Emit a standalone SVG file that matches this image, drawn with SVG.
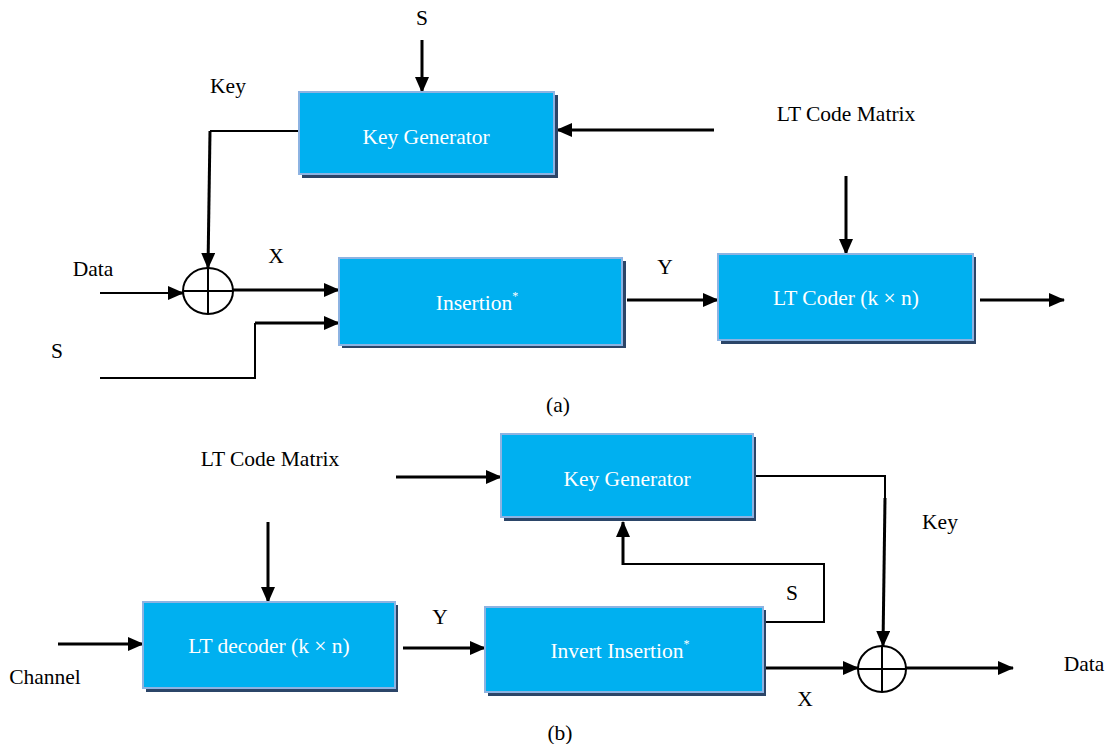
<svg xmlns="http://www.w3.org/2000/svg" width="1106" height="744" viewBox="0 0 1106 744">
<style>
.box{fill:#00B0F0;stroke:#8DB3E2;stroke-width:2}
.sh{fill:#2B4568}
text{font-family:'Liberation Serif','DejaVu Serif',serif;font-size:21.5px}
.bt{fill:#FFFFFF;text-anchor:middle}
.lb{fill:#000000;text-anchor:middle}
.sup{font-size:12px}
.thick{fill:none;stroke:#000;stroke-width:3}
.thin{fill:none;stroke:#000;stroke-width:2}
.xor{fill:#FFFFFF;stroke:#000;stroke-width:2}
</style>
<defs>
<marker id="ah" markerUnits="userSpaceOnUse" markerWidth="16" markerHeight="14" refX="15" refY="7" orient="auto">
<path d="M0,0 L16,7 L0,14 z" fill="#000"/>
</marker>
</defs>
<rect width="1106" height="744" fill="#FFFFFF"/>

<g id="connectors">
<path class="thick" d="M422,40 L422,92" marker-end="url(#ah)"/>
<path class="thin" d="M299,131 L210,131"/>
<path class="thick" d="M210,131 L208,268" marker-end="url(#ah)"/>
<path class="thick" d="M714,130 L557,130" marker-end="url(#ah)"/>
<path class="thin" d="M100,293 L170,293"/>
<path class="thick" d="M168,293 L183,293" marker-end="url(#ah)"/>
<path class="thick" d="M233,290 L339,290" marker-end="url(#ah)"/>
<path class="thin" d="M100,378 L255,378 L255,323"/>
<path class="thick" d="M255,323 L339,323" marker-end="url(#ah)"/>
<path class="thick" d="M627,300 L718,300" marker-end="url(#ah)"/>
<path class="thick" d="M846,176 L846,254" marker-end="url(#ah)"/>
<path class="thick" d="M980,300 L1064,300" marker-end="url(#ah)"/>
<path class="thick" d="M396,477 L501,477" marker-end="url(#ah)"/>
<path class="thin" d="M753,476 L885,476 L885,500"/>
<path class="thick" d="M885,498 L883,646" marker-end="url(#ah)"/>
<path class="thin" d="M763,622 L824,622 L824,564 L623,564"/>
<path class="thick" d="M623,565 L623,522" marker-end="url(#ah)"/>
<path class="thick" d="M766,668 L858,668" marker-end="url(#ah)"/>
<path class="thick" d="M906,668 L1013,668" marker-end="url(#ah)"/>
<path class="thick" d="M58,644 L143,644" marker-end="url(#ah)"/>
<path class="thick" d="M268,522 L268,602" marker-end="url(#ah)"/>
<path class="thick" d="M403,648 L485,648" marker-end="url(#ah)"/>
</g>

<g id="keygen-a">
<rect class="sh" x="302" y="95" width="256" height="83"/>
<rect class="box" x="299" y="92" width="255" height="82"/>
<text class="bt" x="426" y="144">Key Generator</text>
</g>
<g id="insertion">
<rect class="sh" x="342" y="261" width="284" height="87"/>
<rect class="box" x="339" y="258" width="283" height="87"/>
<text class="bt" x="477" y="310">Insertion<tspan class="sup" dy="-10">*</tspan></text>
</g>
<g id="ltcoder">
<rect class="sh" x="721" y="257" width="255" height="87"/>
<rect class="box" x="718" y="254" width="255" height="86"/>
<text class="bt" x="846" y="305">LT Coder (k × n)</text>
</g>
<g id="xor-a">
<ellipse class="xor" cx="208" cy="291" rx="25" ry="23"/>
<path class="thin" d="M183,291 L233,291 M208,268 L208,314"/>
</g>

<g id="keygen-b">
<rect class="sh" x="504" y="437" width="252" height="84"/>
<rect class="box" x="501" y="434" width="252" height="83"/>
<text class="bt" x="627" y="486">Key Generator</text>
</g>
<g id="invert-insertion">
<rect class="sh" x="488" y="610" width="278" height="86"/>
<rect class="box" x="485" y="607" width="278" height="85"/>
<text class="bt" x="620" y="658">Invert Insertion<tspan class="sup" dy="-10">*</tspan></text>
</g>
<g id="ltdecoder">
<rect class="sh" x="146" y="605" width="252" height="87"/>
<rect class="box" x="143" y="602" width="252" height="86"/>
<text class="bt" x="269" y="653">LT decoder (k × n)</text>
</g>
<g id="xor-b">
<ellipse class="xor" cx="882" cy="669" rx="24" ry="23"/>
<path class="thin" d="M858,669 L906,669 M882,646 L882,692"/>
</g>

<g id="labels">
<text class="lb" x="422" y="25">S</text>
<text class="lb" x="228" y="93">Key</text>
<text class="lb" x="846" y="121">LT Code Matrix</text>
<text class="lb" x="93" y="276">Data</text>
<text class="lb" x="276" y="263">X</text>
<text class="lb" x="57" y="358">S</text>
<text class="lb" x="665" y="274">Y</text>
<text class="lb" x="558" y="412">(a)</text>
<text class="lb" x="270" y="466">LT Code Matrix</text>
<text class="lb" x="940" y="529">Key</text>
<text class="lb" x="792" y="600">S</text>
<text class="lb" x="805" y="706">X</text>
<text class="lb" x="1084" y="671">Data</text>
<text class="lb" x="45" y="684">Channel</text>
<text class="lb" x="440" y="624">Y</text>
<text class="lb" x="560" y="740">(b)</text>
</g>
</svg>
